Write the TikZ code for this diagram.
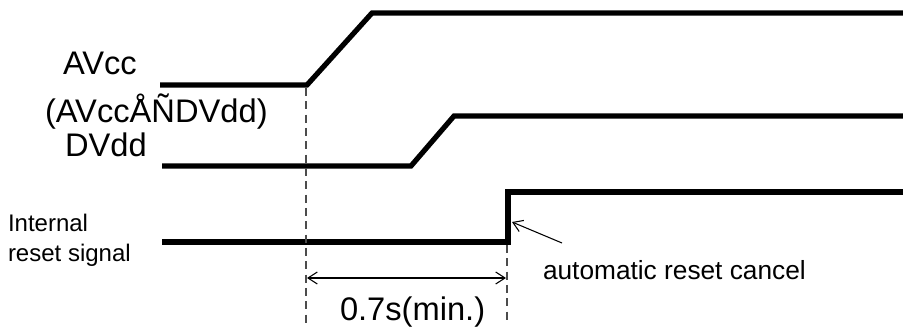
\documentclass[tikz,border=0pt]{standalone}
\usepackage{fontspec}
\setmainfont{Liberation Sans}
\usetikzlibrary{arrows.meta}
\begin{document}
\begin{tikzpicture}[x=0.75pt,y=-0.75pt,
  every node/.style={inner sep=0pt,outer sep=0pt,anchor=base west},
  big/.style={font=\fontsize{24.5}{28}\selectfont},
  small/.style={font=\fontsize{18}{22}\selectfont},
  mid/.style={font=\fontsize{19.7}{23}\selectfont},
  wave/.style={line width=3.9pt,line join=miter},
  guide/.style={line width=0.8pt,black!70,dash pattern=on 6pt off 4pt},
  dim/.style={line width=0.8pt,{Straight Barb[length=7pt,width=9pt]}-{Straight Barb[length=7pt,width=9pt]}},
  note/.style={line width=0.8pt,-{Straight Barb[length=7pt,width=9pt]}}]
\useasboundingbox (0,0) rectangle (903,327);
% labels
\node[big] (avcc) at (63,75) {AVcc};
\node[big] (order) at (45,123) {(AVccÅÑDVdd)};
\node[big] (dvdd) at (65,157) {DVdd};
\node[small] (int) at (8,232) {Internal};
\node[small] (rst) at (8,262) {reset signal};
% waveforms
\coordinate (a0) at (160,85);
\coordinate (a1) at (307,85);
\coordinate (a2) at (372,13);
\coordinate (a3) at (905,13);
\draw[wave] (a0) -- (a1) -- (a2) -- (a3);
\coordinate (d0) at (162,166);
\coordinate (d1) at (411,166);
\coordinate (d2) at (454,116);
\coordinate (d3) at (905,116);
\draw[wave] (d0) -- (d1) -- (d2) -- (d3);
\coordinate (r0) at (162,242);
\coordinate (r1) at (508,242);
\coordinate (r2) at (508,192);
\coordinate (r3) at (905,192);
\draw[wave] (r0) -- (r1) -- (r2) -- (r3);
% guides
\coordinate (g1) at (306,323);
\coordinate (g2) at (507,323);
\draw[guide] (306,88) -- (g1);
\draw[guide] (507,245) -- (g2);
\draw[dim] (307,278) -- (506,278);
\node[big] (time) at (340,321) {0.7s(min.)};
% note
\node[mid] (cancel) at (543,280) {automatic reset cancel};
\draw[note] (562,243) -- (512,222);
\end{tikzpicture}
\end{document}
